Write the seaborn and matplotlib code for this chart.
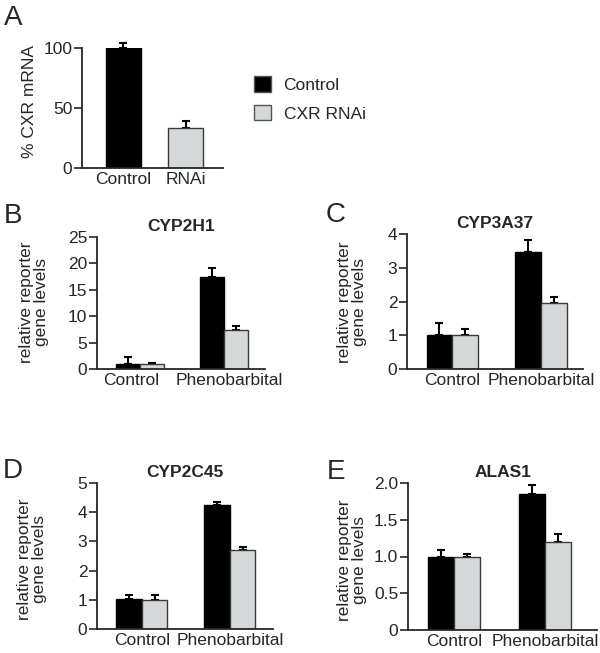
import matplotlib
matplotlib.use('agg')
import matplotlib.pyplot as plt
import numpy as np
import pandas as pd
import seaborn as sns

sns.set_style('ticks')
plt.rcParams['font.family'] = ['Liberation Sans', 'DejaVu Sans']

# panel A: knockdown efficiency
knock_labels = ['Control', 'RNAi']
knock_mean = [100, 33]
knock_err = [4, 6]

# panels B-E: reporter levels, order = [Control, Phenobarbital]
treatments = ['Control', 'Phenobarbital']
groups = ['Control', 'CXR RNAi']

cyp2h1_ctrl = [1.0, 17.4]
cyp2h1_rnai = [1.0, 7.4]
cyp2h1_ctrl_err = [1.2, 1.8]
cyp2h1_rnai_err = [0.05, 0.7]

cyp3a37_ctrl = [1.0, 3.48]
cyp3a37_rnai = [1.0, 1.97]
cyp3a37_ctrl_err = [0.37, 0.35]
cyp3a37_rnai_err = [0.18, 0.16]

cyp2c45_ctrl = [1.02, 4.26]
cyp2c45_rnai = [1.0, 2.69]
cyp2c45_ctrl_err = [0.13, 0.09]
cyp2c45_rnai_err = [0.18, 0.13]

alas1_ctrl = [1.0, 1.85]
alas1_rnai = [1.0, 1.195]
alas1_ctrl_err = [0.09, 0.12]
alas1_rnai_err = [0.035, 0.105]

BLACK = '#000000'
GRAY = '#d3d9d9'
W, H = 600, 653
TICK_FS = 12.5
LAB_FS = 12.5

fig = plt.figure(figsize=(W / 100, H / 100), dpi=100)


def px_axes(l, t, r, b):
    return fig.add_axes([l / W, 1 - b / H, (r - l) / W, (b - t) / H])


def style_axes(ax, yticks, yticklabels=None):
    sns.despine(ax=ax)
    ax.spines['left'].set_linewidth(1.3)
    ax.spines['bottom'].set_linewidth(1.3)
    ax.set_yticks(yticks)
    if yticklabels is not None:
        ax.set_yticklabels(yticklabels)
    ax.tick_params(axis='y', length=6, width=1.2, labelsize=TICK_FS, pad=1)
    ax.tick_params(axis='x', length=0, labelsize=TICK_FS, pad=3)
    ax.set_xlabel('')
    ax.set_ylabel('')


def add_errors(ax, errs):
    for container, err in zip(ax.containers, errs):
        for bar, e in zip(container, err):
            x = bar.get_x() + bar.get_width() / 2
            y = bar.get_height()
            ax.errorbar(x, y, yerr=[[0], [e]], fmt='none', ecolor='black',
                        elinewidth=1.5, capsize=3, capthick=1.5, zorder=1,
                        clip_on=False)


def reporter_panel(rect, title, ctrl, rnai, ctrl_err, rnai_err, ylim, yticks,
                   xlim, width, yticklabels=None, legend=False):
    ax = px_axes(*rect)
    df = pd.DataFrame({
        'treatment': treatments * 2,
        'group': [groups[0]] * 2 + [groups[1]] * 2,
        'value': ctrl + rnai,
    })
    sns.barplot(data=df, x='treatment', y='value', hue='group', order=treatments,
                hue_order=groups, palette=[BLACK, GRAY], width=width,
                errorbar=None, linewidth=1.0, edgecolor='#3a3a3a', ax=ax,
                legend=legend, zorder=2)
    for bar in ax.containers[0]:
        bar.set_edgecolor('black')
    add_errors(ax, [ctrl_err, rnai_err])
    ax.set_ylim(*ylim)
    ax.set_xlim(*xlim)
    style_axes(ax, yticks, yticklabels)
    ax.set_title(title, fontsize=12.5, fontweight='bold', pad=4)
    return ax


# panel A
ax_a = px_axes(82, 48, 223, 168)
sns.barplot(x=knock_labels, y=knock_mean, hue=knock_labels, palette=[BLACK, GRAY],
            width=0.56, edgecolor='#3a3a3a', linewidth=1.0, legend=False, ax=ax_a, zorder=2)
ax_a.containers[0][0].set_edgecolor('black')
add_errors(ax_a, [[knock_err[0]], [knock_err[1]]])
ax_a.set_ylim(0, 100)
ax_a.set_xlim(-0.66, 1.6)
style_axes(ax_a, [0, 50, 100])

ax_b = reporter_panel((97, 237, 265, 369), 'CYP2H1', cyp2h1_ctrl, cyp2h1_rnai,
                      cyp2h1_ctrl_err, cyp2h1_rnai_err, (0, 25), [0, 5, 10, 15, 20, 25],
                      (-0.51, 1.49), 0.57, legend=True)
# the labels in B sit a little apart from the bar groups
ax_b.set_xticks([-0.1, 1.06], treatments)
ax_c = reporter_panel((407, 234, 583, 369), 'CYP3A37', cyp3a37_ctrl, cyp3a37_rnai,
                      cyp3a37_ctrl_err, cyp3a37_rnai_err, (0, 4), [0, 1, 2, 3, 4],
                      (-0.51, 1.47), 0.58)
ax_d = reporter_panel((97, 483, 273, 629), 'CYP2C45', cyp2c45_ctrl, cyp2c45_rnai,
                      cyp2c45_ctrl_err, cyp2c45_rnai_err, (0, 5), [0, 1, 2, 3, 4, 5],
                      (-0.51, 1.49), 0.58)
ax_e = reporter_panel((408, 483, 597, 630), 'ALAS1', alas1_ctrl, alas1_rnai,
                      alas1_ctrl_err, alas1_rnai_err, (0, 2), [0, 0.5, 1.0, 1.5, 2.0],
                      (-0.505, 1.57), 0.57, yticklabels=['0', '0.5', '1.0', '1.5', '2.0'])

# shared legend
handles, labels = ax_b.get_legend_handles_labels()
ax_b.get_legend().remove()
for h in handles:
    h.set_edgecolor('#555555')
fig.legend(handles, labels, loc='upper left', bbox_to_anchor=(254 / W, 1 - 76 / H),
           frameon=False, fontsize=LAB_FS, handlelength=1.0, handleheight=1.0,
           labelspacing=0.7, handletextpad=0.7, borderpad=0, borderaxespad=0)

# y labels
ylab = 'relative reporter\ngene levels'
fig.text(30 / W, 1 - 102 / H, '% CXR mRNA', rotation=90, ha='center', va='center', fontsize=LAB_FS)
for x, y in [(34, 302), (352, 302), (32, 559), (352, 560)]:
    fig.text(x / W, 1 - y / H, ylab, rotation=90, ha='center', va='center',
             fontsize=LAB_FS, multialignment='center', linespacing=0.95)

# panel letters
for letter, x, y in [('A', 4, 18), ('B', 4, 216), ('C', 326, 215), ('D', 3, 471), ('E', 327, 472)]:
    fig.text(x / W, 1 - y / H, letter, ha='left', va='center', fontsize=20)

plt.savefig('out.png', dpi=100)
